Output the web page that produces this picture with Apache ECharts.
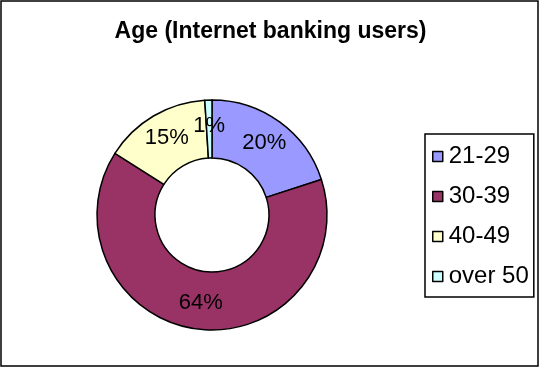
<!DOCTYPE html>
<html>
<head>
<meta charset="utf-8">
<script src="https://cdn.jsdelivr.net/npm/echarts@6/dist/echarts.min.js"></script>
<style>
  html, body { margin: 0; padding: 0; background: #fff; }
  #chart { width: 541px; height: 368px; }
</style>
</head>
<body>
<div id="chart"></div>
<script>
// Age groups of internet banking users (share in %)
const categories = ['21-29', '30-39', '40-49', 'over 50'];
const shares = [20, 64, 15, 1];
const colors = ['#9999FF', '#993366', '#FFFFCC', '#CCFFFF'];

const font = '"Liberation Sans", Arial, sans-serif';

const chart = echarts.init(document.getElementById('chart'), null, { renderer: 'canvas' });

chart.setOption({
  backgroundColor: '#ffffff',
  animation: false,
  color: colors,
  title: {
    text: 'Age (Internet banking users)',
    left: 'center',
    top: 20,
    padding: 0,
    textStyle: { fontFamily: font, fontSize: 23, fontWeight: 'bold', color: '#000' }
  },
  legend: {
    orient: 'vertical',
    left: 425,
    top: 134,
    padding: [10, 5, 8, 7],
    itemGap: 15,
    itemWidth: 10,
    itemHeight: 10,
    icon: 'rect',
    borderColor: '#000',
    borderWidth: 1.5,
    itemStyle: { borderColor: '#000', borderWidth: 1.5 },
    textStyle: { fontFamily: font, fontSize: 24, color: '#000', lineHeight: 24, padding: [1, 0, 0, 1] },
    data: categories
  },
  graphic: [{
    type: 'rect',
    shape: { x: 1, y: 1, width: 537, height: 365 },
    style: { fill: 'none', stroke: '#000', lineWidth: 1.5 },
    silent: true
  }],
  series: [{
    type: 'pie',
    center: [212, 215],
    radius: [57, 115],
    startAngle: 90,
    clockwise: true,
    avoidLabelOverlap: false,
    itemStyle: { borderColor: '#000', borderWidth: 1.5 },
    label: {
      show: true,
      position: 'inside',
      formatter: '{c}%',
      fontFamily: font,
      fontSize: 22,
      color: '#000',
      textBorderWidth: 0
    },
    labelLine: { show: false },
    emphasis: { disabled: true },
    data: categories.map((name, i) => ({ name, value: shares[i] }))
  }]
});
</script>
</body>
</html>
